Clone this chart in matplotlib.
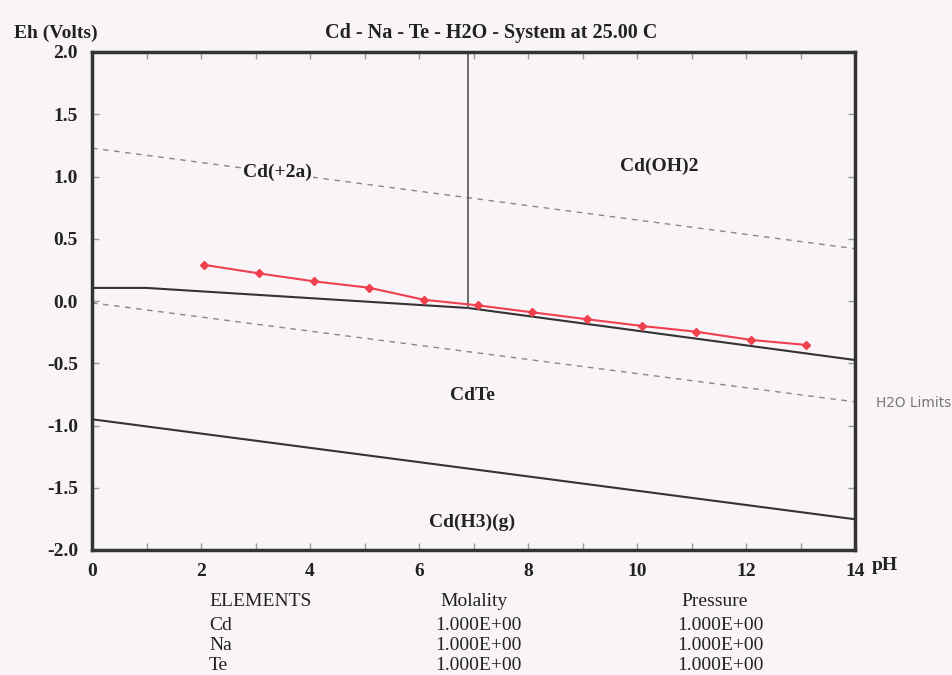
import matplotlib
matplotlib.use("Agg")
import matplotlib.pyplot as plt
from matplotlib.ticker import MultipleLocator

# data
ph_meas = [2.06, 3.06, 4.07, 5.08, 6.09, 7.08, 8.08, 9.09, 10.1, 11.09, 12.1, 13.11]
eh_meas = [0.29, 0.222, 0.158, 0.107, 0.01, -0.035, -0.091, -0.147, -0.201, -0.247, -0.313, -0.353]

upper_ph = [0, 1.0, 6.9, 14]
upper_eh = [0.105, 0.105, -0.056, -0.474]
lower_ph = [0, 14]
lower_eh = [-0.95, -1.753]
h2o_ph = [0, 14]
h2o_top_eh = [1.228, 0.42]
h2o_bot_eh = [-0.015, -0.81]
vert_ph = 6.9
vert_eh = [-0.056, 2.0]

regions = ["Cd(+2a)", "Cd(OH)2", "CdTe", "Cd(H3)(g)"]
region_ph = [3.4, 10.4, 6.98, 6.98]
region_eh = [1.03, 1.08, -0.76, -1.78]

table_headers = ["ELEMENTS", "Molality", "Pressure"]
elements = ["Cd", "Na", "Te"]
molality = ["1.000E+00", "1.000E+00", "1.000E+00"]
pressure = ["1.000E+00", "1.000E+00", "1.000E+00"]

W, H = 952, 675
bg = "#f8f4f8"
ink = "#222222"
serif = "Liberation Serif"

fig = plt.figure(figsize=(W / 100, H / 100), dpi=100, facecolor=bg)
ax = fig.add_axes([92 / W, 1 - 550 / H, (855 - 92) / W, (550 - 52) / H], facecolor=bg)

ax.plot(h2o_ph, h2o_top_eh, color="#888888", lw=1.0, ls=(0, (4, 4)))
ax.plot(h2o_ph, h2o_bot_eh, color="#888888", lw=1.0, ls=(0, (4, 4)))
ax.plot(upper_ph, upper_eh, color="#333333", lw=1.5)
ax.plot(lower_ph, lower_eh, color="#333333", lw=1.5)
ax.plot([vert_ph, vert_ph], vert_eh, color="#555555", lw=1.2)
ax.plot(ph_meas, eh_meas, color="#f0404e", lw=1.5, marker="D", ms=4.5,
        mec="#f0404e", mfc="#f0404e")

for name, x, y in zip(regions, region_ph, region_eh):
    ax.text(x, y, name, ha="center", va="center", fontsize=14, fontweight="bold",
            family=serif, color=ink,
            bbox=dict(boxstyle="square,pad=0.05", fc=bg, ec="none"))

ax.set_xlim(0, 14)
ax.set_ylim(-2.0, 2.0)
ax.xaxis.set_major_locator(MultipleLocator(2))
ax.xaxis.set_minor_locator(MultipleLocator(1))
ax.yaxis.set_major_locator(MultipleLocator(0.5))
ax.tick_params(axis="both", which="both", direction="in", top=True, right=True,
               color="#999999", width=1, length=5)
ax.tick_params(axis="x", pad=9)
ax.tick_params(axis="y", pad=10)
ax.set_yticklabels([f"{v:.1f}" for v in ax.get_yticks()])
for lab in ax.get_xticklabels() + ax.get_yticklabels():
    lab.set_family(serif)
    lab.set_fontweight("bold")
    lab.set_fontsize(14)
    lab.set_color(ink)
for s in ax.spines.values():
    s.set_linewidth(2.5)
    s.set_color("#333333")

def px(x, y):
    return x / W, 1 - y / H

fig.text(*px(14, 33), "Eh (Volts)", ha="left", va="center", fontsize=14,
         fontweight="bold", family=serif, color=ink)
fig.text(*px(491, 33), "Cd - Na - Te - H2O - System at 25.00 C", ha="center", va="center",
         fontsize=14.5, fontweight="bold", family=serif, color=ink)
fig.text(*px(872, 566), "pH", ha="left", va="center", fontsize=14,
         fontweight="bold", family=serif, color=ink)
fig.text(*px(876, 403), "H2O Limits", ha="left", va="center", fontsize=9.8,
         family="DejaVu Sans", color="#777777")

# element table under the plot
fs = 14
fig.text(*px(209, 602), table_headers[0], ha="left", va="center", fontsize=fs, family=serif, color=ink)
fig.text(*px(474, 602), table_headers[1], ha="center", va="center", fontsize=fs, family=serif, color=ink)
fig.text(*px(715, 602), table_headers[2], ha="center", va="center", fontsize=fs, family=serif, color=ink)
for i, (el, m, p) in enumerate(zip(elements, molality, pressure)):
    y = 626 + i * 20
    fig.text(*px(209, y), el, ha="left", va="center", fontsize=fs, family=serif, color=ink)
    fig.text(*px(478, y), m, ha="center", va="center", fontsize=fs, family=serif, color=ink)
    fig.text(*px(720, y), p, ha="center", va="center", fontsize=fs, family=serif, color=ink)

fig.savefig("out.png", dpi=100, facecolor=bg)
